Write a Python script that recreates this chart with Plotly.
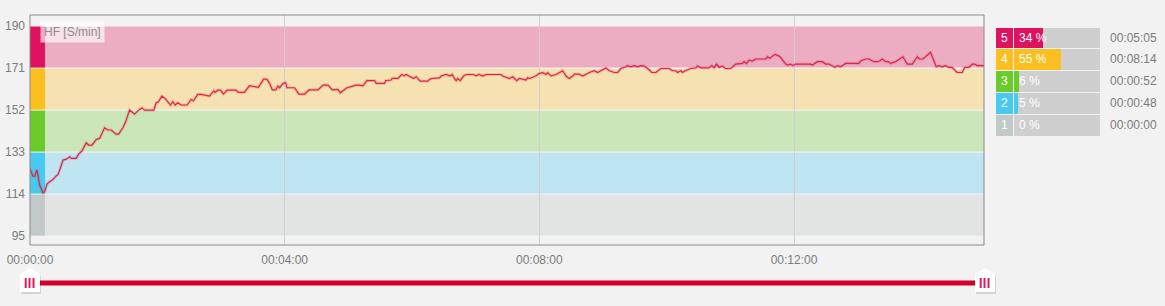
import plotly.graph_objects as go

# ---------------- data ----------------
time_s = [0, 2.8, 4.4, 6.6, 9.1, 12.2, 13.8, 16.0, 18.5, 21.6, 23.8, 26.4, 28.5, 31.1, 34.2, 37.4, 38.9,
          43.6, 45.8, 48.9, 53.0, 55.2, 58.4, 62.4, 65.6, 70.3, 73.4, 76.5, 81.2, 83.5, 87.5, 90.1, 93.8,
          98.5, 103.2, 105.4, 108.0, 116.7, 118.9, 121.1, 124.2, 127.3, 132.4, 134.6, 136.8, 139.3, 142.4,
          148.0, 151.8, 154.1, 158.1, 161.2, 169.1, 173.2, 174.4, 176.9, 179.5, 182.3, 185.7, 194.2, 196.4,
          202.1, 203.6, 206.8, 215.2, 220.2, 223.1, 225.9, 228.4, 231.5, 233.7, 235.3, 238.4, 240.9, 242.2,
          249.4, 253.2, 258.8, 262.9, 271.4, 276.1, 280.8, 284.9, 290.2, 292.4, 295.5, 298.7, 302.7, 306.8,
          310.6, 313.7, 317.5, 324.7, 326.3, 334.1, 335.1, 340.4, 341.3, 346.7, 350.4, 352.3, 354.5, 357.0,
          361.4, 363.9, 367.7, 374.9, 376.5, 379.0, 385.9, 387.4, 392.2, 395.9, 397.8, 400.0, 401.6, 403.1,
          405.3, 408.5, 411.0, 417.9, 420.4, 422.9, 426.7, 429.8, 443.9, 445.5, 448.6, 451.8, 454.9, 458.7,
          461.2, 467.4, 469.0, 471.2, 476.9, 480.0, 483.1, 486.3, 487.8, 491.0, 495.7, 500.4, 502.0, 505.1,
          508.2, 511.4, 513.0, 517.6, 520.8, 527.1, 531.8, 534.9, 538.0, 542.7, 545.9, 550.6, 553.7, 556.9,
          561.6, 563.1, 566.3, 569.4, 572.5, 575.7, 578.8, 582.0, 586.0, 589.8, 594.5, 602.4, 605.5, 608.6,
          610.2, 613.3, 614.9, 617.4, 622.7, 627.5, 629.0, 632.2, 640.0, 642.5, 644.7, 646.9, 649.4, 652.5,
          655.1, 660.4, 665.1, 668.2, 671.4, 672.9, 675.1, 677.6, 680.8, 683.9, 693.3, 694.9, 697.1, 699.6,
          702.1, 705.9, 708.1, 711.5, 713.7, 716.9, 719.1, 721.6, 724.7, 735.7, 737.3, 742.0, 746.7, 749.8,
          753.0, 755.5, 758.6, 760.8, 763.9, 768.6, 781.2, 782.7, 787.5, 790.6, 795.3, 798.4, 800.6, 803.1,
          806.3, 808.8, 811.0, 815.7, 817.9, 820.4, 822.6, 826.7, 831.4, 836.1, 838.3, 841.4, 843.9, 848.6,
          854.0, 856.5, 859.6, 862.7, 865.9, 869.0, 873.7, 878.4, 880.9, 884.7, 887.9, 890.4, 892.6, 899.0]
hr_bpm = [125.5, 122.1, 122.0, 125.0, 118.1, 114.6, 115.0, 118.5, 119.6, 120.6, 121.8, 122.9, 125.6, 129.4, 129.8, 130.9, 130.2,
          130.2, 132.1, 133.5, 137.2, 136.2, 136.2, 138.7, 139.2, 144.0, 143.0, 143.0, 141.1, 141.1, 144.0, 146.7, 152.0,
          150.2, 152.3, 153.0, 152.0, 152.0, 155.3, 155.8, 158.3, 157.3, 154.3, 155.8, 154.3, 155.3, 154.3,
          154.3, 156.8, 156.2, 159.1, 159.1, 158.3, 160.7, 160.0, 161.0, 161.0, 159.2, 161.0, 161.0, 160.0,
          160.0, 161.0, 163.0, 162.3, 166.0, 166.0, 164.0, 161.1, 161.1, 162.9, 162.1, 164.1, 164.4, 162.1,
          162.1, 159.2, 159.2, 161.1, 161.1, 163.3, 163.3, 161.1, 161.4, 159.8, 161.1, 162.1, 162.6, 163.3,
          163.3, 163.0, 165.3, 165.3, 164.1, 164.1, 165.3, 165.6, 166.3, 166.3, 168.1, 167.5, 168.1, 167.4,
          166.3, 167.1, 165.1, 165.1, 165.9, 166.3, 166.6, 167.4, 168.1, 167.4, 168.1, 166.3, 165.3, 166.3,
          165.3, 167.4, 168.1, 168.1, 167.5, 168.1, 167.4, 168.1, 168.1, 167.4, 166.8, 166.3, 167.1, 165.3,
          166.3, 165.6, 166.6, 166.3, 167.5, 168.6, 168.9, 168.1, 168.9, 167.5, 168.1, 169.6, 169.8, 167.4,
          166.3, 167.4, 168.3, 168.3, 167.4, 169.0, 169.8, 169.0, 169.8, 171.1, 169.8, 169.0, 169.0, 170.8,
          171.6, 172.1, 171.6, 172.1, 171.6, 172.1, 171.9, 170.8, 169.0, 169.0, 170.8, 170.8, 169.8, 169.8,
          169.0, 169.8, 169.0, 169.8, 170.8, 171.1, 171.9, 171.1, 171.1, 172.1, 171.1, 172.8, 171.3, 171.9,
          170.8, 170.8, 172.8, 173.1, 173.1, 173.9, 173.1, 174.6, 174.2, 175.1, 175.1, 176.1, 175.4, 176.4,
          177.2, 176.4, 175.4, 173.1, 172.4, 172.8, 172.1, 172.8, 172.8, 172.8, 172.4, 173.9, 173.9, 172.8,
          172.8, 172.1, 171.3, 172.1, 171.6, 173.1, 173.1, 174.2, 175.1, 175.1, 173.9, 173.9, 174.2, 175.1,
          173.9, 173.9, 173.1, 173.9, 174.6, 175.1, 176.1, 172.8, 172.8, 176.1, 175.1, 175.1, 176.1, 178.1,
          171.6, 172.1, 171.6, 172.1, 171.3, 171.3, 169.0, 169.0, 171.3, 171.3, 172.8, 172.8, 172.1, 172.1]

zone_ids = ["5", "4", "3", "2", "1"]
zone_num = [5, 4, 3, 2, 1]
zone_lo = [171, 152, 133, 114, 95]
zone_hi = [190, 171, 152, 133, 114]
zone_band_colors = ["#ECADC3", "#F6E1B0", "#CBE6B8", "#BFE4F2", "#E2E3E3"]
zone_strong_colors = ["#E0115F", "#FBBF1F", "#6BCB2A", "#48C9EF", "#C2C9C9"]
zone_pct = [34, 55, 6, 5, 0]
zone_time = ["00:05:05", "00:08:14", "00:00:52", "00:00:48", "00:00:00"]

y_ticks = [95, 114, 133, 152, 171, 190]
x_tickvals = [0, 240, 480, 720]
x_ticktext = ["00:00:00", "00:04:00", "00:08:00", "00:12:00"]
duration_s = 899
y_range = [91, 195]

# ---------------- layout geometry (pixels) ----------------
W, H = 1165, 306
ML, MR, MT, MB = 30, 5, 15, 61
PW, PH = W - ML - MR, H - MT - MB
MAIN_RIGHT = 984
LEG_L, LEG_R, LEG_T, LEG_B = 996, 1100, 26.7, 136.0
NUM_W = 16.7
BAR_L = 1014


def px_x(p):
    return (p - ML) / PW


def px_y(p):
    return (H - MB - p) / PH


main_dom = [0, px_x(MAIN_RIGHT)]
leg_xdom = [px_x(LEG_L), px_x(LEG_R)]
leg_ydom = [px_y(LEG_B), px_y(LEG_T)]
unit = (LEG_R - BAR_L) / 100.0  # px per percent
x2_range = [-(BAR_L - LEG_L) / unit, 100]

FONT = "Liberation Sans, Arial, sans-serif"
GREY_TXT = "#7b7b7b"

fig = go.Figure()

# heart-rate line (soft halo + line)
fig.add_trace(go.Scatter(x=time_s, y=hr_bpm, mode="lines",
                         line=dict(color="rgba(222,60,90,0.22)", width=3.2),
                         hoverinfo="skip", showlegend=False))
fig.add_trace(go.Scatter(x=time_s, y=hr_bpm, mode="lines",
                         line=dict(color="#D92848", width=1.2),
                         hoverinfo="skip", showlegend=False))

# legend bars (second subplot)
fig.add_trace(go.Bar(y=zone_num, x=[-x2_range[0] * 0 + NUM_W / unit] * 5, base=[x2_range[0]] * 5,
                     orientation="h", width=0.95, marker=dict(color=zone_strong_colors, line=dict(width=0)),
                     xaxis="x2", yaxis="y2", hoverinfo="skip", showlegend=False))
fig.add_trace(go.Bar(y=zone_num, x=[100] * 5, base=[0] * 5, orientation="h", width=0.95,
                     marker=dict(color="#CFCFCF", line=dict(width=0)),
                     xaxis="x2", yaxis="y2", hoverinfo="skip", showlegend=False))
fig.add_trace(go.Bar(y=zone_num, x=zone_pct, base=[0] * 5, orientation="h", width=0.95,
                     marker=dict(color=zone_strong_colors, line=dict(width=0)),
                     xaxis="x2", yaxis="y2", hoverinfo="skip", showlegend=False))

shapes = []
# zone bands
for lo, hi, bc, sc in zip(zone_lo, zone_hi, zone_band_colors, zone_strong_colors):
    shapes.append(dict(type="rect", xref="x domain", yref="y", x0=0, x1=1, y0=lo + 0.25, y1=hi - 0.25,
                       fillcolor=bc, line=dict(width=0), layer="below"))
    shapes.append(dict(type="rect", xref="x domain", yref="y", x0=0, x1=15 / (MAIN_RIGHT - ML),
                       y0=lo + 0.25, y1=hi - 0.25, fillcolor=sc, line=dict(width=0), layer="below"))
# frame
shapes.append(dict(type="rect", xref="x domain", yref="y domain", x0=0, x1=1, y0=0, y1=1,
                   line=dict(color="#8a8a8a", width=1), fillcolor="rgba(0,0,0,0)", layer="above"))
# slider line
shapes.append(dict(type="line", xref="paper", yref="paper", x0=px_x(31), x1=px_x(984),
                   y0=px_y(283), y1=px_y(283), line=dict(color="#D4002B", width=5)))
# slider handles
for cx in (30, 985):
    def hp(dx, dy):
        return f"{px_x(cx - 10 + dx):.5f},{px_y(274 + dy):.5f}"
    shadow = (f"M{px_x(cx - 9):.5f},{px_y(276):.5f} L{px_x(cx + 1):.5f},{px_y(270):.5f} "
              f"L{px_x(cx + 11):.5f},{px_y(276):.5f} L{px_x(cx + 11):.5f},{px_y(294):.5f} "
              f"L{px_x(cx - 9):.5f},{px_y(294):.5f} Z")
    shapes.append(dict(type="path", xref="paper", yref="paper", path=shadow,
                       fillcolor="rgba(0,0,0,0.12)", line=dict(width=0)))
    body = (f"M{px_x(cx - 10):.5f},{px_y(274):.5f} L{px_x(cx):.5f},{px_y(268):.5f} "
            f"L{px_x(cx + 10):.5f},{px_y(274):.5f} L{px_x(cx + 10):.5f},{px_y(292):.5f} "
            f"L{px_x(cx - 10):.5f},{px_y(292):.5f} Z")
    shapes.append(dict(type="path", xref="paper", yref="paper", path=body,
                       fillcolor="#FFFFFF", line=dict(width=0)))
    for dx in (-4.3, -0.5, 3.5):
        shapes.append(dict(type="line", xref="paper", yref="paper", x0=px_x(cx + dx), x1=px_x(cx + dx),
                           y0=px_y(278), y1=px_y(288), line=dict(color="#E0195A", width=2)))

annotations = [dict(text="HF [S/min]", xref="x domain", yref="y domain", x=10 / (MAIN_RIGHT - ML),
                    y=(245 - 21) / 230, xanchor="left", yanchor="top", showarrow=False,
                    font=dict(family=FONT, size=12, color="#8c8c8c"),
                    bgcolor="rgba(255,255,255,0.65)", borderpad=3)]
for zid, zn, p, tm in zip(zone_ids, zone_num, zone_pct, zone_time):
    annotations.append(dict(text=zid, xref="x2", yref="y2", x=x2_range[0] + NUM_W / unit / 2, y=zn,
                            showarrow=False, xanchor="center", yanchor="middle",
                            font=dict(family=FONT, size=12, color="white")))
    annotations.append(dict(text=f"{p} %", xref="x2", yref="y2", x=0, y=zn, xshift=3,
                            showarrow=False, xanchor="left", yanchor="middle",
                            font=dict(family=FONT, size=12, color="white")))
    annotations.append(dict(text=tm, xref="paper", yref="y2", x=px_x(1159), y=zn,
                            showarrow=False, xanchor="right", yanchor="middle",
                            font=dict(family=FONT, size=12, color=GREY_TXT)))

fig.update_layout(
    width=W, height=H,
    margin=dict(l=ML, r=MR, t=MT, b=MB, pad=0),
    paper_bgcolor="#F2F2F2", plot_bgcolor="#F2F2F2",
    font=dict(family=FONT, size=12, color=GREY_TXT),
    showlegend=False, barmode="overlay", bargap=0,
    shapes=shapes, annotations=annotations,
    xaxis=dict(domain=main_dom, range=[0, duration_s], tickvals=x_tickvals, ticktext=x_ticktext,
               showgrid=True, gridcolor="#CFCFCF", gridwidth=1, zeroline=False, showline=False,
               ticks="", ticklabelstandoff=6, tickfont=dict(family=FONT, size=12, color=GREY_TXT),
               fixedrange=True),
    yaxis=dict(range=y_range, tickvals=y_ticks, showgrid=False, zeroline=False, showline=False,
               ticks="", ticklabelstandoff=4, tickfont=dict(family=FONT, size=12, color=GREY_TXT),
               fixedrange=True),
    xaxis2=dict(domain=leg_xdom, anchor="y2", range=x2_range, visible=False, fixedrange=True),
    yaxis2=dict(domain=leg_ydom, anchor="x2", range=[0.5, 5.5], visible=False, fixedrange=True),
)

fig.write_html("out.html")
